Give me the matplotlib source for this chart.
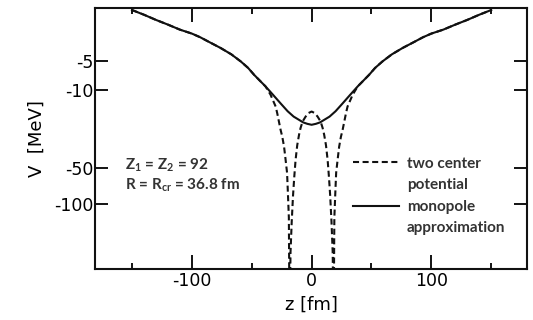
import numpy as np
import matplotlib.pyplot as plt
from matplotlib.lines import Line2D

# monopole approximation (solid)
z_mono = [-150, -140, -130, -120, -110, -100, -93, -85, -76, -67, -59, -53, -48, -43,
          -38.5, -32, -26, -20, -15, -10, -7, -3.5, 0,
          3.5, 7, 10, 15, 20, 26, 32, 38.5, 43, 48, 53, 59, 67, 76, 85, 93, 100,
          110, 120, 130, 140, 150]
v_mono = [-0.7, -0.95, -1.25, -1.55, -1.9, -2.2, -2.5, -2.95, -3.5, -4.2, -5.1, -6.0, -7.1, -8.2,
          -9.3, -11.3, -13.5, -16.0, -17.9, -19.3, -20.2, -20.8, -21.2,
          -20.8, -20.2, -19.3, -17.9, -16.0, -13.5, -11.3, -9.3, -8.2, -7.1, -6.0, -5.1, -4.2, -3.5, -2.95, -2.5, -2.2,
          -1.9, -1.55, -1.25, -0.95, -0.7]

# two center potential (dashed)
z_two = [-150, -140, -130, -120, -110, -100, -93, -85, -76, -67, -59, -53, -48, -43,
         -38.5, -34.3, -30, -28.7, -25.9, -24.5, -23, -21.8, -20.5, -19.8, -19.0, -18.4,
         -17.6, -16.6, -15.5, -14.5, -13.4, -12, -10.5, -9.2, -7.5, -5, -2.5, 0,
         2.5, 5, 7.5, 9.2, 10.5, 12, 13.4, 14.5, 15.5, 16.6, 17.6,
         18.4, 19.0, 19.8, 20.5, 21.8, 23, 24.5, 25.9, 28.7, 30, 34.3,
         38.5, 43, 48, 53, 59, 67, 76, 85, 93, 100, 110, 120, 130, 140, 150]
v_two = [-0.7, -0.95, -1.25, -1.55, -1.9, -2.2, -2.5, -2.95, -3.5, -4.2, -5.1, -6.0, -7.1, -8.2,
         -9.3, -11.2, -14.5, -16.7, -23.5, -27, -33, -42, -55, -81, -130, -1000,
         -250, -140, -85, -60, -43, -32, -26, -22.6, -19.8, -17.9, -16.6, -16.1,
         -16.6, -17.9, -19.8, -22.6, -26, -32, -43, -60, -85, -140, -250,
         -1000, -130, -81, -55, -42, -33, -27, -23.5, -16.7, -14.5, -11.2,
         -9.3, -8.2, -7.1, -6.0, -5.1, -4.2, -3.5, -2.95, -2.5, -2.2, -1.9, -1.55, -1.25, -0.95, -0.7]

x_major = [-100, 0, 100]
x_minor = [-150, -50, 50, 150]
y_ticks = [-5, -10, -50, -100]
y_labels = ['-5', '-10', '-50', '-100']


def fwd(v):
    return -np.log10(2.0 - np.asarray(v))


def inv(t):
    return 2.0 - 10.0 ** (-np.asarray(t))


plt.rcParams['font.family'] = 'DejaVu Sans'
plt.rcParams['axes.unicode_minus'] = False

fig = plt.figure(figsize=(5.33, 3.2), dpi=100)
ax = fig.add_axes([0.178, 0.159, 0.811, 0.816])

ax.set_yscale('function', functions=(fwd, inv))

dashed, = ax.plot(z_two, v_two, color='#111111', lw=1.5, dashes=(2.9, 1.7))
solid, = ax.plot(z_mono, v_mono, color='#111111', lw=1.5)

ax.set_xlim(-181, 180)
ax.set_ylim(-345, -0.6)

ax.set_xticks(x_major)
ax.set_xticklabels([str(v) for v in x_major])
ax.set_xticks(x_minor, minor=True)
ax.set_yticks(y_ticks)
ax.set_yticklabels(y_labels)
ax.yaxis.set_minor_locator(plt.NullLocator())

ax.tick_params(axis='x', which='major', direction='in', length=10, width=1.3,
               top=True, bottom=True, labelsize=12.5, pad=2)
ax.tick_params(axis='x', which='minor', direction='in', length=4.5, width=1.3,
               top=True, bottom=True)
ax.tick_params(axis='y', which='major', direction='in', length=9.7, width=1.3,
               left=True, right=True, labelsize=12.5, pad=1)
for s in ax.spines.values():
    s.set_linewidth(1.5)
    s.set_color('#111111')

ax.set_xlabel('z [fm]', fontsize=13, labelpad=4)
ax.set_ylabel('V  [MeV]', fontsize=13, labelpad=6)

txt = dict(family=['Lato', 'DejaVu Sans'], weight='bold', size=11, color='#333333')
ax.text(0.069, 0.400, r'Z$_{\mathregular{1}}$ = Z$_{\mathregular{2}}$ = 92',
        transform=ax.transAxes, va='center', ha='left', **txt)
ax.text(0.069, 0.323, r'R = R$_{\mathregular{cr}}$ = 36.8 fm',
        transform=ax.transAxes, va='center', ha='left', **txt)

blank = Line2D([], [], color='none')
leg = ax.legend([dashed, blank, solid, blank],
                ['two center', 'potential', 'monopole', 'approximation'],
                loc='upper left', bbox_to_anchor=(0.597, 0.431), frameon=False,
                borderpad=0, borderaxespad=0, handlelength=3.0, handletextpad=0.52,
                labelspacing=0.5, labelcolor='#333333',
                prop=dict(family='Lato', weight='bold', size=11))

fig.savefig('out.png', dpi=100)
